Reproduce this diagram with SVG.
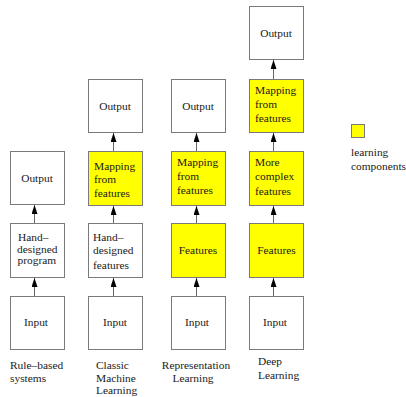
<svg xmlns="http://www.w3.org/2000/svg" width="406" height="397" viewBox="0 0 406 397" font-family="'Liberation Serif', 'Times New Roman', serif">
<style>
.box{fill:#fff;stroke:#7a7a7a;stroke-width:1}
.y{fill:#ffff00}
text{font-family:"Liberation Serif","Times New Roman",serif;font-size:11.4px;fill:#1a1a1a}
.c{text-anchor:middle}
.ln{stroke:#666;stroke-width:1}
</style>
<defs>
<marker id="ah" markerWidth="9" markerHeight="6" refX="9" refY="3" orient="auto" markerUnits="userSpaceOnUse" viewBox="0 0 9 6">
<path d="M0,0 L9,3 L0,6 Z" fill="#000"/>
</marker>
</defs>
<rect width="406" height="397" fill="#fff"/>

<!-- Column 1: Rule-based systems -->
<g id="c1-output"><rect class="box" x="10.5" y="151.5" width="54" height="53"/><text class="c" x="37" y="181.5">Output</text></g>
<g id="c1-program"><rect class="box" x="10.5" y="223.5" width="54" height="54"/><text x="18" y="240.5">Hand–</text><text x="17" y="252.5">designed</text><text x="17.5" y="264">program</text></g>
<g id="c1-input"><rect class="box" x="10.5" y="296.5" width="54" height="53"/><text class="c" x="36" y="326">Input</text></g>
<g id="c1-label"><text x="10" y="369">Rule–based</text><text x="10" y="381.5">systems</text></g>

<!-- Column 2: Classic ML -->
<g id="c2-output"><rect class="box" x="88.5" y="79.5" width="54" height="53"/><text class="c" x="115" y="109.5">Output</text></g>
<g id="c2-mapping"><rect class="box y" x="88.5" y="151.5" width="54" height="54"/><text x="94" y="170">Mapping</text><text x="94" y="183">from</text><text x="94" y="197">features</text></g>
<g id="c2-features"><rect class="box" x="88.5" y="223.5" width="54" height="54"/><text x="93" y="240.5">Hand–</text><text x="93" y="254">designed</text><text x="93" y="268.5">features</text></g>
<g id="c2-input"><rect class="box" x="88.5" y="296.5" width="54" height="53"/><text class="c" x="115" y="326">Input</text></g>
<g id="c2-label"><text x="96" y="369">Classic</text><text x="96" y="381.5">Machine</text><text x="96" y="393.5">Learning</text></g>

<!-- Column 3: Representation Learning -->
<g id="c3-output"><rect class="box" x="171.5" y="79.5" width="54" height="53"/><text class="c" x="198" y="109.5">Output</text></g>
<g id="c3-mapping"><rect class="box y" x="171.5" y="151.5" width="54" height="54"/><text x="177" y="166">Mapping</text><text x="177" y="180">from</text><text x="177" y="194">features</text></g>
<g id="c3-features"><rect class="box y" x="171.5" y="223.5" width="54" height="54"/><text class="c" x="198" y="253.5">Features</text></g>
<g id="c3-input"><rect class="box" x="171.5" y="296.5" width="54" height="53"/><text class="c" x="197" y="326">Input</text></g>
<g id="c3-label"><text class="c" x="196" y="369">Representation</text><text class="c" x="193" y="381.5">Learning</text></g>

<!-- Column 4: Deep Learning -->
<g id="c4-output"><rect class="box" x="249.5" y="6.5" width="54" height="53"/><text class="c" x="276" y="37">Output</text></g>
<g id="c4-mapping"><rect class="box y" x="249.5" y="79.5" width="54" height="53"/><text x="255" y="94">Mapping</text><text x="255" y="108">from</text><text x="255" y="122">features</text></g>
<g id="c4-complex"><rect class="box y" x="249.5" y="151.5" width="54" height="54"/><text x="255" y="166">More</text><text x="255" y="180">complex</text><text x="255" y="194.5">features</text></g>
<g id="c4-features"><rect class="box y" x="249.5" y="223.5" width="54" height="54"/><text class="c" x="276.5" y="253.5">Features</text></g>
<g id="c4-input"><rect class="box" x="249.5" y="296.5" width="54" height="53"/><text class="c" x="275" y="326">Input</text></g>
<g id="c4-label"><text x="258" y="365">Deep</text><text x="258" y="379">Learning</text></g>

<!-- Legend -->
<g id="legend"><rect x="351.5" y="124.5" width="13" height="13" fill="#ffff00" stroke="#7a7a7a"/><text x="351" y="156">learning</text><text x="351" y="170">components</text></g>

<!-- Connectors -->
<g id="connectors" fill="none">
<line class="ln" x1="34.5" y1="223" x2="34.5" y2="205" marker-end="url(#ah)"/>
<line class="ln" x1="34.5" y1="296" x2="34.5" y2="278" marker-end="url(#ah)"/>
<line class="ln" x1="113.5" y1="151" x2="113.5" y2="133" marker-end="url(#ah)"/>
<line class="ln" x1="113.5" y1="223" x2="113.5" y2="206" marker-end="url(#ah)"/>
<line class="ln" x1="113.5" y1="296" x2="113.5" y2="278" marker-end="url(#ah)"/>
<line class="ln" x1="196.5" y1="151" x2="196.5" y2="133" marker-end="url(#ah)"/>
<line class="ln" x1="196.5" y1="223" x2="196.5" y2="206" marker-end="url(#ah)"/>
<line class="ln" x1="196.5" y1="296" x2="196.5" y2="278" marker-end="url(#ah)"/>
<line class="ln" x1="273.5" y1="79" x2="273.5" y2="60" marker-end="url(#ah)"/>
<line class="ln" x1="273.5" y1="151" x2="273.5" y2="133" marker-end="url(#ah)"/>
<line class="ln" x1="273.5" y1="223" x2="273.5" y2="206" marker-end="url(#ah)"/>
<line class="ln" x1="273.5" y1="296" x2="273.5" y2="278" marker-end="url(#ah)"/>
</g>
</svg>
